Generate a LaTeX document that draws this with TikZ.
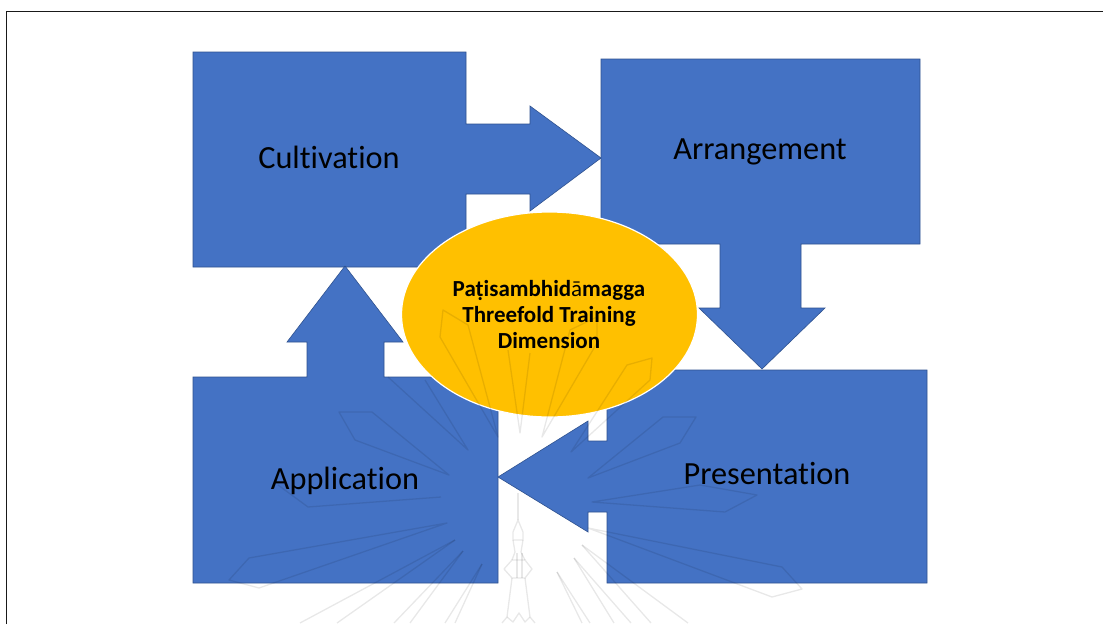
\documentclass[tikz,border=0pt]{standalone}
\usepackage{fontspec}
\setmainfont[Ligatures=NoCommon]{Carlito}
\usetikzlibrary{positioning}
\usetikzlibrary{shapes.geometric}
\definecolor{boxblue}{HTML}{4472C4}
\definecolor{boxedge}{HTML}{2F528F}
\definecolor{hubgold}{HTML}{FFC000}
\tikzset{
    stage/.style={fill=boxblue, draw=boxedge, line width=0.6pt, line join=miter},
    stagelabel/.style={font=\fontsize{32.3}{38}\selectfont, text=black, inner sep=0pt, anchor=base},
    hub/.style={ellipse, fill=hubgold, draw=white, line width=1.2pt, minimum width=296pt, minimum height=205pt, inner sep=0pt},
    hublabel/.style={font=\fontsize{23}{26}\selectfont\bfseries, align=center, inner sep=0pt},
    wmark/.style={draw=black, opacity=0.09, line width=1.3pt, line join=round},
}

\begin{document}
\begin{tikzpicture}[x=1pt, y=-1pt]
    \useasboundingbox (0,0) rectangle (1103,624);
    \fill[white] (0,0) rectangle (1103,624);

    % page frame
    \draw[black!90, line width=1pt] (6.5,624) -- (6.5,11.5) -- (1103,11.5);

    % the four stages
    \draw[stage] (193,52) -- (466,52) -- (466,124) -- (530,124) -- (530,106) -- (601,158)
        -- (530,211) -- (530,194) -- (466,194) -- (466,267) -- (193,267) -- cycle;
    \draw[stage] (601,59) -- (920,59) -- (920,244) -- (801,244) -- (801,308) -- (825,308)
        -- (762,369) -- (699,308) -- (720,308) -- (720,244) -- (601,244) -- cycle;
    \draw[stage] (607,370) -- (927,370) -- (927,583) -- (607,583) -- (607,512) -- (588,512)
        -- (588,532) -- (498,477) -- (588,421) -- (588,441) -- (607,441) -- cycle;
    \draw[stage] (193,377) -- (307,377) -- (307,342) -- (287,342) -- (345,266) -- (403,342)
        -- (384,342) -- (384,377) -- (498,377) -- (498,583) -- (193,583) -- cycle;

    \node[hub] (hub) at (549.5,314.5) {};
    \node[hublabel] (hubtext) at (549,315) {Pa\char"1E6D isambhid{\mdseries ā}magga\\Threefold Training\\Dimension};

    \node[stagelabel] (cultivation) at (329,168) {Cultivation};
    \node[stagelabel] (arrangement) at (760,159) {Arrangement};
    \node[stagelabel] (presentation) at (767,484) {Presentation};
    \node[stagelabel] (application) at (345,489) {Application};

    % faint emblem showing through
    \draw[wmark] (339,412) -- (372,412) -- (449,475) -- (355,440) -- cycle;
    \draw[wmark] (441,497) -- (308,507) -- (278,485);
    \draw[wmark] (447,523) -- (249,558) -- (229,580) -- (259,588) -- cycle;
    \draw[wmark] (663,417) -- (696,417) -- (680,443) -- (588,478) -- cycle;
    \draw[wmark] (592,502) -- (700,485) -- (757,495) -- (725,512) -- cycle;
    \draw[wmark] (588,528) -- (782,567) -- (802,589) -- (772,597) -- cycle;
    \draw[wmark] (443,310) -- (468,325) -- (498,437) -- (440,337) -- cycle;
    \draw[wmark] (627,365) -- (652,358) -- (650,380) -- (571,452) -- cycle;
    \draw[wmark] (570,330) -- (597,317) -- (597,343) -- (542,437) -- cycle;
    \draw[wmark] (508,350) -- (520,433) -- (530,353);
    \draw[wmark] (388,377) -- (468,450) -- (425,380);
    \foreach \ax/\ay/\bx/\by in {455/540/300/623, 455/540/337/623, 463/551/394/623, 463/551/410/623,
        482/564/445/623, 482/564/455/623, 582/545/688/623, 582/545/651/623, 574/558/631/623,
        574/558/614/623, 557/572/590/623, 557/572/582/623}
        \draw[wmark] (\ax,\ay) -- (\bx,\by);

    % spire at the foot of the emblem
    \draw[wmark] (518,493) -- (518,520);
    \draw[wmark] (518,520) -- (513,532) -- (513,540) -- (523,540) -- (523,532) -- cycle;
    \draw[wmark] (513,540) -- (515,552) -- (512,560);
    \draw[wmark] (523,540) -- (521,552) -- (525,560);
    \draw[wmark] (512,560) -- (525,560) -- (532,569) -- (525,578) -- (512,578) -- (504,569) -- cycle;
    \draw[wmark] (517,553) -- (517,578);
    \draw[wmark] (522,553) -- (522,578);
    \draw[wmark] (512,578) -- (507,617) -- (502,623);
    \draw[wmark] (525,578) -- (530,617) -- (535,623);
    \draw[wmark] (507,617) -- (513,622) -- (519,613) -- (525,622) -- (530,617);
\end{tikzpicture}
\end{document}
